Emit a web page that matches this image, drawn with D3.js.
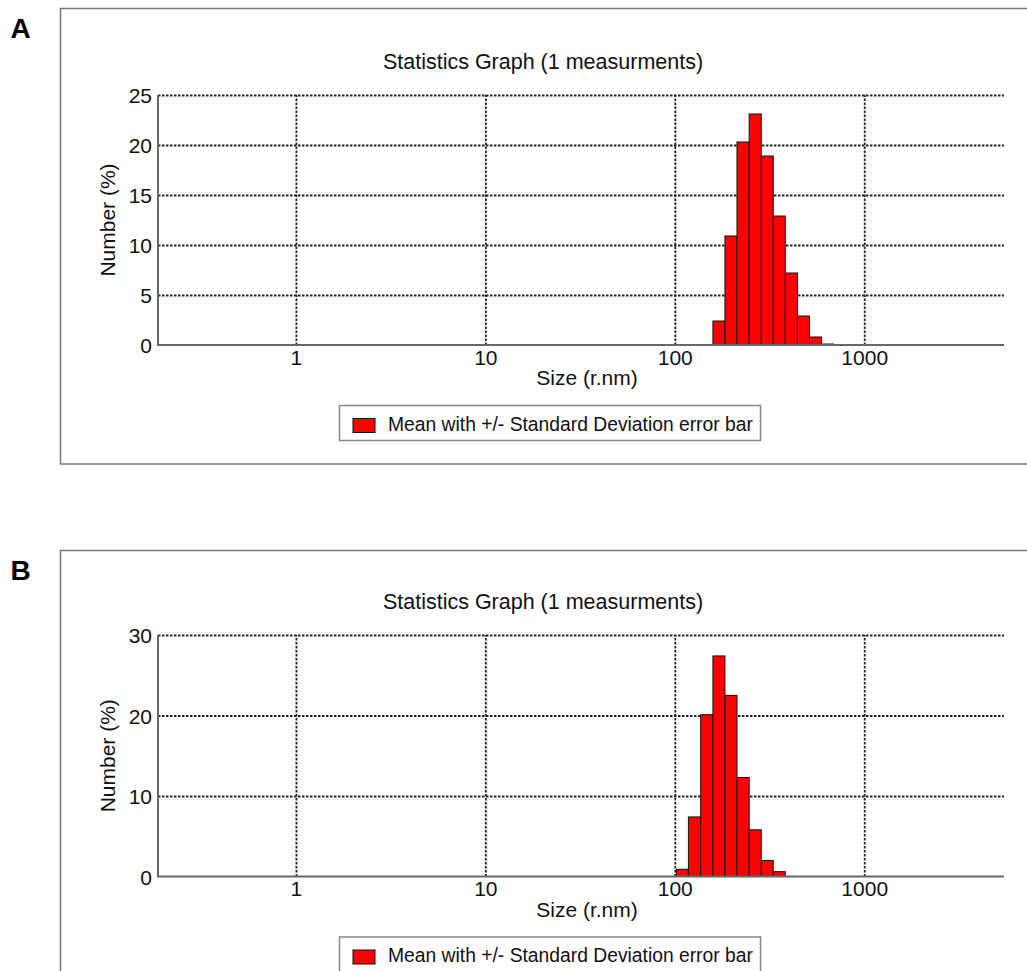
<!DOCTYPE html>
<html>
<head>
<meta charset="utf-8">
<script src="https://cdn.jsdelivr.net/npm/d3@7"></script>
<style>
  body { margin: 0; background: #fff; }
  text { font-family: "Liberation Sans", Arial, sans-serif; fill: #111; }
</style>
</head>
<body>
<script>
// chart data
var sizeTicks = [1, 10, 100, 1000];

// panel A: bin edges (r.nm) and number %
var edgesA = [159, 184, 213, 247, 286, 331, 383, 444, 514, 595, 689];
var valuesA = [2.4, 10.9, 20.3, 23.1, 18.9, 12.9, 7.2, 2.9, 0.8, 0.1];
var yTicksA = [0, 5, 10, 15, 20, 25];

// panel B
var edgesB = [102, 118, 137, 159, 184, 213, 247, 286, 331, 383];
var valuesB = [0.9, 7.4, 20.1, 27.4, 22.5, 12.3, 5.8, 2.0, 0.6];
var yTicksB = [0, 10, 20, 30];

var svg = d3.select('body').append('svg')
  .attr('width', 1027)
  .attr('height', 971);

// x scale shared by both panels
var x = d3.scaleLog().domain([0.187, 5470]).range([158, 1004]);

var drawPanel = function(opts) {
  var g = svg.append('g');

  // outer frame
  g.append('rect')
    .attr('x', 60.5).attr('y', opts.frameTop)
    .attr('width', 980).attr('height', opts.frameH)
    .attr('fill', 'none').attr('stroke', '#777').attr('stroke-width', 1.5);

  g.append('text')
    .attr('x', 20.5).attr('y', opts.frameTop + 29.5)
    .attr('text-anchor', 'middle')
    .style('font-weight', 'bold').style('font-size', '28px')
    .style('fill', '#000')
    .text(opts.letter);

  var y = d3.scaleLinear().domain([0, opts.yMax]).range([opts.bottom, opts.top]);

  // title
  g.append('text')
    .attr('x', 543).attr('y', opts.top - 26)
    .attr('text-anchor', 'middle')
    .style('font-size', '21.5px')
    .text('Statistics Graph (1 measurments)');

  // y axis + horizontal grid
  var yAxis = g.append('g')
    .attr('transform', 'translate(158,0)')
    .call(d3.axisLeft(y).tickValues(opts.yTicks).tickSize(-(1004 - 158)).tickPadding(6));
  yAxis.select('.domain').remove();
  yAxis.selectAll('line')
    .attr('stroke', '#222').attr('stroke-width', 1.8).attr('stroke-dasharray', '2.5,1.5')
    .filter(function(d) { return d === 0; }).remove();
  yAxis.selectAll('text').style('font-size', '21px').attr('dy', '0.36em');

  // x axis + vertical grid
  var xAxis = g.append('g')
    .attr('transform', 'translate(0,' + opts.bottom + ')')
    .call(d3.axisBottom(x).tickValues(sizeTicks).tickFormat(d3.format('d'))
      .tickSize(-(opts.bottom - opts.top)).tickPadding(5));
  xAxis.select('.domain').remove();
  xAxis.selectAll('line')
    .attr('stroke', '#222').attr('stroke-width', 1.8).attr('stroke-dasharray', '2.5,1.5');
  xAxis.selectAll('text').style('font-size', '21px');

  // axis title
  g.append('text')
    .attr('x', 587).attr('y', opts.bottom + 40)
    .attr('text-anchor', 'middle')
    .style('font-size', '21px')
    .text('Size (r.nm)');

  g.append('text')
    .attr('transform', 'translate(115,' + ((opts.top + opts.bottom) / 2) + ') rotate(-90)')
    .attr('text-anchor', 'middle')
    .style('font-size', '21px')
    .text('Number (%)');

  // bars
  g.selectAll('.bar')
    .data(opts.values)
    .enter()
    .append('rect')
    .attr('class', 'bar')
    .attr('x', function(d, i) { return x(opts.edges[i]); })
    .attr('width', function(d, i) { return x(opts.edges[i + 1]) - x(opts.edges[i]); })
    .attr('y', function(d) { return y(d); })
    .attr('height', function(d) { return opts.bottom - y(d); })
    .attr('fill', '#ff0000')
    .attr('stroke', '#111')
    .attr('stroke-width', 1);

  // axis lines (drawn over bars)
  g.append('line')
    .attr('x1', 158).attr('x2', 158).attr('y1', opts.top).attr('y2', opts.bottom)
    .attr('stroke', '#666').attr('stroke-width', 2);
  g.append('line')
    .attr('x1', 157).attr('x2', 1004).attr('y1', opts.bottom).attr('y2', opts.bottom)
    .attr('stroke', '#666').attr('stroke-width', 2);

  // legend
  var lg = g.append('g').attr('transform', 'translate(0,' + (opts.bottom + 60) + ')');
  lg.append('rect')
    .attr('x', 339.5).attr('y', 0.5).attr('width', 421).attr('height', 35)
    .attr('fill', '#fff').attr('stroke', '#888').attr('stroke-width', 1.5);
  lg.append('rect')
    .attr('x', 353).attr('y', 13.5).attr('width', 22).attr('height', 14)
    .attr('fill', '#ff0000').attr('stroke', '#111').attr('stroke-width', 1);
  lg.append('text')
    .attr('x', 388).attr('y', 25.5)
    .style('font-size', '19.3px')
    .text('Mean with +/- Standard Deviation error bar');
};

drawPanel({ letter: 'A', frameTop: 8.5, frameH: 455.5, top: 95, bottom: 345,
  yMax: 25, yTicks: yTicksA, edges: edgesA, values: valuesA });
drawPanel({ letter: 'B', frameTop: 550.5, frameH: 460, top: 635, bottom: 876.5,
  yMax: 30, yTicks: yTicksB, edges: edgesB, values: valuesB });
</script>
</body>
</html>
